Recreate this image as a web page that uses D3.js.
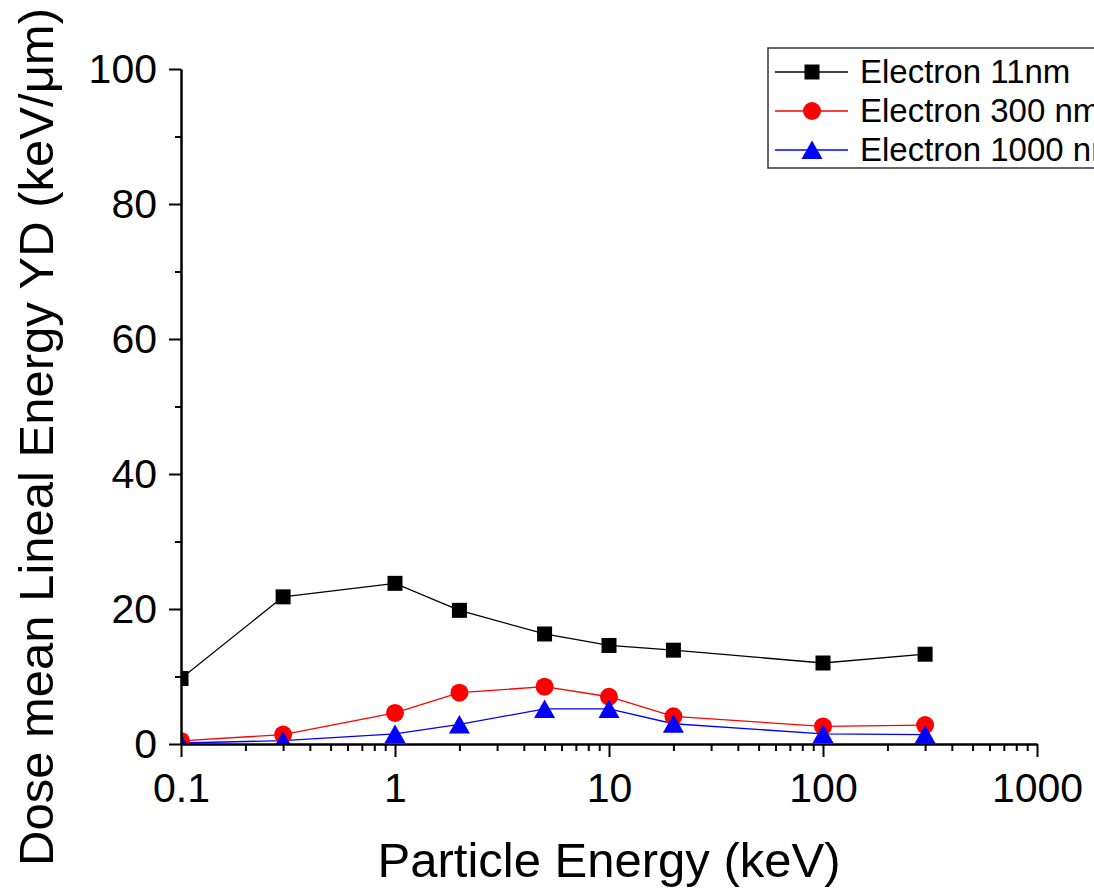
<!doctype html>
<html>
<head>
<meta charset="utf-8">
<script src="https://cdnjs.cloudflare.com/ajax/libs/d3/7.8.5/d3.min.js"></script>
<style>
  body { margin: 0; background: #fff; }
  svg { font-family: "Liberation Sans", Arial, sans-serif; display: block; }
</style>
</head>
<body>
<svg id="chart" width="1094" height="891"></svg>
<script>
// data
var energies = [0.1, 0.3, 1, 2, 5, 10, 20, 100, 300];
var yd11 = [9.7, 21.8, 23.8, 19.8, 16.3, 14.6, 13.9, 12.0, 13.3];
var yd300 = [0.45, 1.4, 4.6, 7.6, 8.5, 7.0, 4.1, 2.6, 2.8];
var yd1000 = [0.15, 0.5, 1.5, 2.9, 5.2, 5.2, 3.0, 1.5, 1.4];
var seriesNames = ["Electron 11nm", "Electron 300 nm", "Electron 1000 nm"];
var xMajor = [0.1, 1, 10, 100, 1000];
var yMajor = [0, 20, 40, 60, 80, 100];
var yMinor = [10, 30, 50, 70, 90];

var series = [
  {name: seriesNames[0], values: yd11, color: "#000000", shape: "square"},
  {name: seriesNames[1], values: yd300, color: "#ff0000", shape: "circle"},
  {name: seriesNames[2], values: yd1000, color: "#0000ff", shape: "triangle"}
];

var svg = d3.select("#chart");
var plotLeft = 181, plotRight = 1037, plotTop = 69, plotBottom = 744;

var x = d3.scaleLog().domain([0.1, 1000]).range([plotLeft, plotRight]);
var y = d3.scaleLinear().domain([0, 100]).range([plotBottom, plotTop]);

// minor x ticks 2..9 in each decade
var xMinor = [];
xMajor.slice(0, -1).forEach(function(d) {
  for (var k = 2; k <= 9; k++) xMinor.push(+(d * k).toPrecision(3));
});

svg.append("defs").append("clipPath").attr("id", "plotclip")
  .append("rect").attr("x", plotLeft).attr("y", 0)
  .attr("width", plotRight - plotLeft + 20).attr("height", plotBottom);

var plot = svg.append("g").attr("clip-path", "url(#plotclip)");

function marker(shape) {
  if (shape == "square") return "M-7.5,-7.5h15v15h-15z";
  if (shape == "circle") return d3.symbol(d3.symbolCircle, Math.PI * 9 * 9)();
  return "M0,-9.5L10.5,9L-10.5,9Z";
}

series.forEach(function(s) {
  var pts = energies.map(function(e, i) { return [e, s.values[i]]; });
  plot.append("path")
    .datum(pts)
    .attr("fill", "none")
    .attr("stroke", s.color)
    .attr("stroke-width", 1.3)
    .attr("d", d3.line().x(function(d) { return x(d[0]); }).y(function(d) { return y(d[1]); }));
});

series.forEach(function(s) {
  var pts = energies.map(function(e, i) { return [e, s.values[i]]; });
  plot.selectAll(null)
    .data(pts)
    .enter().append("path")
    .attr("transform", function(d) { return "translate(" + x(d[0]) + "," + y(d[1]) + ")"; })
    .attr("d", marker(s.shape))
    .attr("fill", s.color);
});

// axes
svg.append("g")
  .attr("transform", "translate(0," + plotBottom + ")")
  .call(d3.axisBottom(x).tickValues(xMajor).tickSize(13).tickSizeOuter(0).tickPadding(16)
    .tickFormat(function(d) { return String(d); }));
svg.append("g")
  .attr("transform", "translate(0," + plotBottom + ")")
  .call(d3.axisBottom(x).tickValues(xMinor).tickSize(7).tickSizeOuter(0).tickFormat(""));

svg.append("g")
  .attr("transform", "translate(" + plotLeft + ",0)")
  .call(d3.axisLeft(y).tickValues(yMajor).tickSize(12).tickSizeOuter(0).tickPadding(12));
svg.append("g")
  .attr("transform", "translate(" + plotLeft + ",0)")
  .call(d3.axisLeft(y).tickValues(yMinor).tickSize(6).tickSizeOuter(0).tickFormat(""));

svg.selectAll(".domain").attr("stroke", "#000").attr("stroke-width", 2);
svg.selectAll(".tick line").attr("stroke", "#000").attr("stroke-width", 2);
svg.selectAll(".tick text").attr("font-size", 41).attr("font-family", "Liberation Sans, Arial, sans-serif").attr("fill", "#000");

// axis titles
svg.append("text")
  .attr("x", (plotLeft + plotRight) / 2)
  .attr("y", 877)
  .attr("text-anchor", "middle")
  .attr("font-size", 49)
  .text("Particle Energy (keV)");

svg.append("text")
  .attr("transform", "translate(53,437) rotate(-90)")
  .attr("text-anchor", "middle")
  .attr("font-size", 49)
  .text("Dose mean Lineal Energy YD (keV/\u03bcm)");

// legend
var legend = svg.append("g");
legend.append("rect")
  .attr("x", 768).attr("y", 48)
  .attr("width", 400).attr("height", 120)
  .attr("fill", "#fff").attr("stroke", "#333").attr("stroke-width", 1.5);

series.forEach(function(s, i) {
  var cy = 72 + i * 39;
  legend.append("line")
    .attr("x1", 775).attr("x2", 848).attr("y1", cy).attr("y2", cy)
    .attr("stroke", s.color).attr("stroke-width", 1.3);
  legend.append("path")
    .attr("transform", "translate(812," + cy + ")")
    .attr("d", marker(s.shape))
    .attr("fill", s.color);
  legend.append("text")
    .attr("x", 860).attr("y", cy + 11)
    .attr("font-size", 33)
    .text(s.name);
});
</script>
</body>
</html>
